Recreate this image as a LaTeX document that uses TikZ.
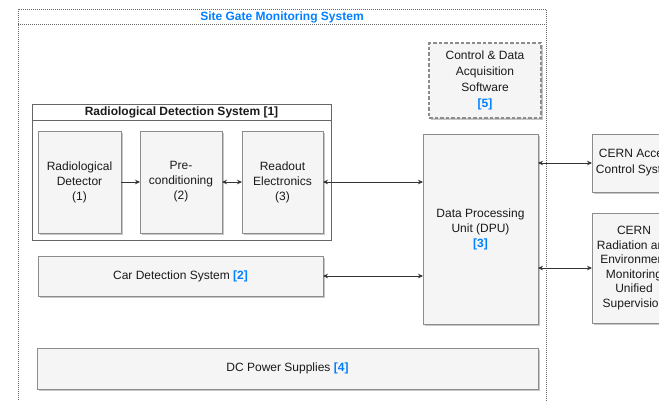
\documentclass[tikz,border=0pt]{standalone}
\usepackage{fontspec}
\setmainfont{Liberation Sans}
\usetikzlibrary{arrows.meta}
\definecolor{boxfill}{HTML}{F5F5F5}
\definecolor{boxline}{HTML}{8C8C8C}
\definecolor{frameline}{HTML}{666666}
\definecolor{refblue}{HTML}{007FFF}
\definecolor{txt}{HTML}{1A1A1A}
\definecolor{wire}{HTML}{333333}
\newcommand{\refno}[1]{\textcolor{refblue}{\bfseries #1}}
\tikzset{
  every node/.style={font=\fontsize{12}{15}\selectfont, text=txt},
  shadowed/.style={preaction={fill=black!22, transform canvas={xshift=1.6pt, yshift=-1.8pt}}},
  block/.style={draw=boxline, fill=boxfill, line width=0.8pt, shadowed, align=center,
    inner sep=0pt, outer sep=0pt},
  swblock/.style={block, draw=boxline, line width=1.2pt, dash pattern=on 3.5pt off 2pt},
  container/.style={draw=frameline, fill=white, line width=0.8pt, inner sep=0pt, outer sep=0pt},
  link/.style={draw=wire, line width=0.7pt, {Stealth[length=5pt,width=4.5pt]}-{Stealth[length=5pt,width=4.5pt]}},
  flow/.style={draw=wire, line width=0.7pt, -{Stealth[length=5pt,width=4.5pt]}},
}
\begin{document}
\begin{tikzpicture}[x=1pt, y=-1pt]
\useasboundingbox (0,0) rectangle (659,400);
\clip (0,0) rectangle (659,400);

% outer system frame with title band
\draw[frameline, line width=0.8pt, dash pattern=on 1pt off 1pt] (18,9) rectangle (546,430);
\draw[frameline, line width=0.8pt, dash pattern=on 1pt off 1pt] (18,24) -- (546,24);
\node[font=\fontsize{12}{15}\selectfont\bfseries, text=refblue] (title) at (282,17) {Site Gate Monitoring System};

% control software
\node[swblock, minimum width=112pt, minimum height=75pt, font=\fontsize{12}{16}\selectfont] (daq) at (485,80.5)
  {Control \& Data\\Acquisition\\Software\\\refno{[5]}};

% radiological detection system container
\node[container, minimum width=299pt, minimum height=136pt] (rds) at (181.5,172) {};
\node[container, minimum width=299pt, minimum height=16pt, font=\fontsize{12}{15}\selectfont\bfseries] (rdshead) at (181.5,112)
  {Radiological Detection System [1]};

\node[block, minimum width=83pt, minimum height=102pt] (det) at (79.5,182) {Radiological\\Detector\\(1)};
\node[block, minimum width=82pt, minimum height=102pt] (pre) at (181,182) {Pre-\\conditioning\\(2)};
\node[block, minimum width=81pt, minimum height=102pt] (ro) at (282.5,182) {Readout\\Electronics\\(3)};

% processing unit and peripheral blocks
\node[block, minimum width=115pt, minimum height=190pt] (dpu) at (480.5,229) {Data Processing\\Unit (DPU)\\\refno{[3]}};
\node[block, minimum width=285pt, minimum height=40pt] (car) at (180.5,276) {Car Detection System \refno{[2]}};
\node[block, minimum width=501pt, minimum height=41pt] (dc) at (287.5,368.5) {DC Power Supplies \refno{[4]}};

% external CERN systems
\node[block, minimum width=90pt, minimum height=58pt, font=\fontsize{12}{16}\selectfont] (acc) at (637,163) {CERN Access\\Control System};
\node[block, minimum width=84pt, minimum height=110pt, font=\fontsize{12}{14.6}\selectfont] (rem) at (634,268)
  {CERN\\Radiation and\\Environment\\Monitoring\\Unified\\Supervision};

% connectors
\draw[flow] (det.east) -- (pre.west);
\draw[link] (pre.east) -- (ro.west);
\draw[link] (ro.east) -- (ro.east -| dpu.west);
\draw[link] (car.east) -- (car.east -| dpu.west);
\draw[link] (dpu.east |- acc.west) -- (acc.west);
\draw[link] (dpu.east |- rem.west) -- (rem.west);
\end{tikzpicture}
\end{document}
